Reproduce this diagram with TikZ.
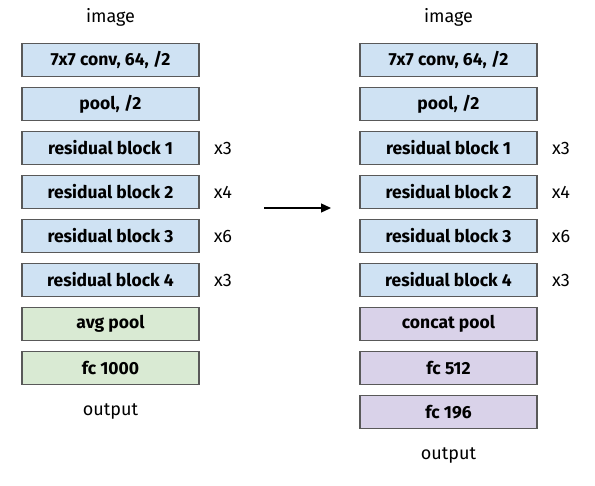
\documentclass[tikz,border=0pt]{standalone}
\usepackage{fontspec}
\setmainfont{Fira Sans}
\usetikzlibrary{arrows.meta}
\definecolor{bblue}{HTML}{CFE2F3}
\definecolor{bgreen}{HTML}{D9EAD3}
\definecolor{bpurple}{HTML}{D9D2E9}
\definecolor{bline}{HTML}{595959}
\tikzset{
  layer/.style={draw=bline, line width=1.2pt, minimum width=177pt, minimum height=33pt, inner sep=0pt, font=\fontsize{17.5}{20}\selectfont\bfseries, text=black},
  bl/.style={layer, fill=bblue},
  gr/.style={layer, fill=bgreen},
  pu/.style={layer, fill=bpurple},
  lab/.style={font=\fontsize{18}{21}\selectfont, text=black, inner sep=0pt},
}
\begin{document}
\begin{tikzpicture}[x=1pt,y=-1pt]
\useasboundingbox (0,0) rectangle (595,486);
% left column
\node[lab] (limg) at (110.5,17) {image};
\node[bl] (l1) at (110.5,60) {7x7 conv, 64, /2};
\node[bl] (l2) at (110.5,104) {pool, /2};
\node[bl] (l3) at (110.5,148) {residual block 1};
\node[bl] (l4) at (110.5,192) {residual block 2};
\node[bl] (l5) at (110.5,236) {residual block 3};
\node[bl] (l6) at (110.5,280) {residual block 4};
\node[gr] (l7) at (110.5,324) {avg pool};
\node[gr] (l8) at (110.5,368) {fc 1000};
\node[lab] (lout) at (110.5,412) {output};
\node[lab] (lx3) at (223,148) {x3};
\node[lab] (lx4) at (223,192) {x4};
\node[lab] (lx6) at (223,236) {x6};
\node[lab] (lx3b) at (223,280) {x3};
% right column
\node[lab] (rimg) at (448.5,17) {image};
\node[bl] (r1) at (448.5,60) {7x7 conv, 64, /2};
\node[bl] (r2) at (448.5,104) {pool, /2};
\node[bl] (r3) at (448.5,148) {residual block 1};
\node[bl] (r4) at (448.5,192) {residual block 2};
\node[bl] (r5) at (448.5,236) {residual block 3};
\node[bl] (r6) at (448.5,280) {residual block 4};
\node[pu] (r7) at (448.5,324) {concat pool};
\node[pu] (r8) at (448.5,368) {fc 512};
\node[pu] (r9) at (448.5,412) {fc 196};
\node[lab] (rout) at (448.5,456) {output};
\node[lab] (rx3) at (561,148) {x3};
\node[lab] (rx4) at (561,192) {x4};
\node[lab] (rx6) at (561,236) {x6};
\node[lab] (rx3b) at (561,280) {x3};
% arrow
\coordinate (as) at (264,208);
\coordinate (ae) at (331,208);
\draw[line width=1.3pt, -{Triangle[length=10pt,width=9pt]}] (as) -- (ae);
\end{tikzpicture}
\end{document}
